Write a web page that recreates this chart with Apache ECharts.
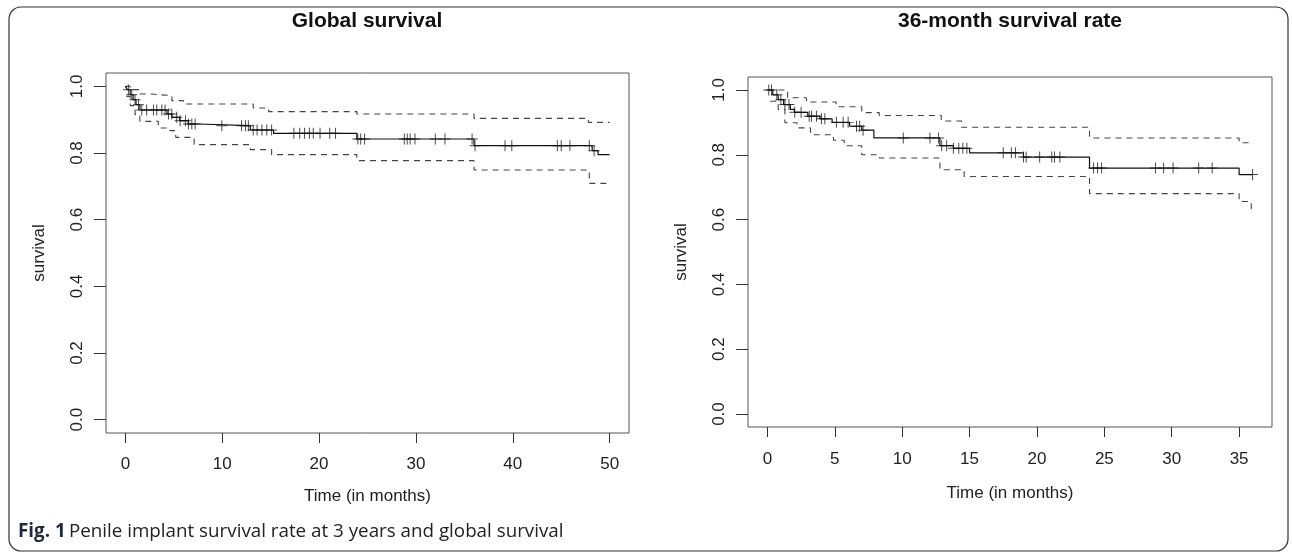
<!DOCTYPE html>
<html><head><meta charset="utf-8">
<script src="https://cdn.jsdelivr.net/npm/echarts@6/dist/echarts.min.js"></script>
<style>html,body{margin:0;padding:0;background:#fff}#c{width:1292px;height:553px}</style>
</head><body><div id="c"></div><script>
// ---- Global survival (left panel) ----
const globalKM = [[0,1.0],[0.2,0.99],[0.5,0.975],[0.8,0.96],[1.1,0.945],[1.5,0.929],[4.3,0.917],[4.8,0.907],[5.6,0.897],[6.5,0.887],[7.5,0.882],[12.9,0.869],[15.3,0.859],[23.9,0.842],[36.0,0.822],[48.2,0.807],[48.8,0.795],[50,0.795]];
const globalUpper = [[0,1.0],[0.5,0.99],[1.5,0.977],[2.7,0.972],[4.8,0.957],[6.0,0.947],[13.2,0.935],[14.8,0.924],[23.9,0.917],[36.0,0.904],[47.8,0.892],[50,0.892]];
const globalLower = [[0.1,0.97],[0.5,0.942],[1.0,0.915],[1.5,0.895],[3.4,0.875],[4.6,0.867],[5.2,0.847],[7.1,0.825],[12.9,0.810],[15.1,0.795],[23.9,0.777],[36.0,0.749],[47.9,0.709],[50,0.709]];
const globalCensor = [0.31,0.66,1.0,1.35,1.69,2.2,2.9,3.24,3.76,4.1,4.45,4.79,5.3,5.65,6.2,6.51,6.86,7.2,9.96,12.0,12.4,12.7,13.2,13.6,14.1,14.6,15.1,17.4,18.0,18.5,19.0,19.4,20.1,21.1,21.7,24.0,24.3,24.7,28.8,29.1,29.4,29.9,32.0,33.0,35.8,36.1,39.2,39.9,44.6,45.0,45.9,47.9,48.4];
const globalXTicks = [0,10,20,30,40,50];

// ---- 36-month survival rate (right panel) ----
const rateKM = [[0,1.0],[0.4,0.985],[0.8,0.97],[1.2,0.955],[1.7,0.94],[2.0,0.931],[3.0,0.919],[3.9,0.911],[4.8,0.900],[6.1,0.888],[7.0,0.876],[7.9,0.852],[12.8,0.828],[13.8,0.820],[15.0,0.806],[19.0,0.793],[23.9,0.759],[35.0,0.739],[36,0.739]];
const rateUpper = [[0,1.0],[1.5,0.976],[2.9,0.963],[5.1,0.948],[7.0,0.930],[8.3,0.921],[12.9,0.904],[14.4,0.885],[23.9,0.852],[35.0,0.837],[36,0.837]];
const rateLower = [[0.2,0.965],[0.8,0.94],[1.3,0.899],[2.2,0.883],[3.2,0.862],[4.9,0.845],[5.7,0.828],[7.0,0.80],[8.3,0.79],[12.8,0.754],[14.6,0.733],[23.9,0.680],[35.0,0.656],[35.9,0.631],[36,0.631]];
const rateCensor = [0.1,0.3,0.7,1.0,1.3,1.6,2.03,2.5,3.1,3.27,3.64,4.01,4.26,5.12,5.62,5.99,6.61,6.85,7.1,10.08,12.06,12.7,12.93,13.3,13.8,14.2,14.5,14.8,17.5,18.1,18.4,19.0,19.2,20.2,21.1,21.3,21.7,24.2,24.5,24.8,28.8,29.4,30.1,32.0,33.0,36.0];
const rateXTicks = [0,5,10,15,20,25,30,35];

const yTicks = [0,0.2,0.4,0.6,0.8,1.0];

const titles = ['Global survival','36-month survival rate'];
const xName = 'Time (in months)';
const yName = 'survival';

function stepValue(km, t){ let v = km[0][1]; for (const p of km){ if (p[0] <= t) v = p[1]; } return v; }

const FONT = '"Liberation Sans", Arial, Helvetica, sans-serif';
const plus = 'path://M-0.09,-1 L0.09,-1 L0.09,-0.09 L1,-0.09 L1,0.09 L0.09,0.09 L0.09,1 L-0.09,1 L-0.09,0.09 L-1,0.09 L-1,-0.09 L-0.09,-0.09 Z';

function xAxisCfg(gi, min, max, ticks, labelMargin, nameGap){
  return {gridIndex:gi, type:'value', min:min, max:max,
    axisLine:{show:false, onZero:false}, splitLine:{show:false},
    axisTick:{show:true, customValues:ticks, length:10, lineStyle:{color:'#333', width:1}},
    axisLabel:{customValues:ticks, fontSize:17, color:'#222', margin:labelMargin, fontFamily:FONT},
    name:xName, nameLocation:'middle', nameGap:nameGap,
    nameTextStyle:{fontSize:17, color:'#222', fontFamily:FONT}};
}
function yAxisCfg(gi){
  return {gridIndex:gi, type:'value', min:-0.04, max:1.04,
    axisLine:{show:false, onZero:false}, splitLine:{show:false},
    axisTick:{show:true, customValues:yTicks, length:12, lineStyle:{color:'#333', width:1}},
    axisLabel:{customValues:yTicks, fontSize:17, color:'#222', margin:20, rotate:90, fontFamily:FONT,
      formatter:v=>Number(v).toFixed(1)},
    name:yName, nameLocation:'middle', nameGap:58, nameRotate:90,
    nameTextStyle:{fontSize:17, color:'#222', fontFamily:FONT}};
}
function panelSeries(gi, km, up, lo, cens){
  return [
    {type:'line', xAxisIndex:gi, yAxisIndex:gi, step:'end', data:up, symbol:'none', silent:true,
      lineStyle:{color:'#444', width:1.1, type:[6,5]}},
    {type:'line', xAxisIndex:gi, yAxisIndex:gi, step:'end', data:lo, symbol:'none', silent:true,
      lineStyle:{color:'#444', width:1.1, type:[6,5]}},
    {type:'line', xAxisIndex:gi, yAxisIndex:gi, step:'end', data:km, symbol:'none', silent:true,
      lineStyle:{color:'#111', width:1.2}},
    {type:'scatter', xAxisIndex:gi, yAxisIndex:gi, symbol:plus, symbolSize:11, silent:true,
      itemStyle:{color:'#1a1a1a'}, data:cens.map(t=>[t, stepValue(km,t)])}
  ];
}

const chart = echarts.init(document.getElementById('c'), null, {renderer:'canvas'});
chart.setOption({
  animation:false,
  backgroundColor:'#fff',
  grid:[
    {left:106, top:73, width:523, height:360, show:true, borderColor:'#555', borderWidth:1, backgroundColor:'transparent'},
    {left:748, top:77, width:524, height:350, show:true, borderColor:'#555', borderWidth:1, backgroundColor:'transparent'}
  ],
  xAxis:[xAxisCfg(0,-2,52,globalXTicks,23,55), xAxisCfg(1,-1.44,37.44,rateXTicks,24,58)],
  yAxis:[yAxisCfg(0), yAxisCfg(1)],
  series:[].concat(panelSeries(0, globalKM, globalUpper, globalLower, globalCensor),
                   panelSeries(1, rateKM, rateUpper, rateLower, rateCensor)),
  graphic:[
    {type:'rect', shape:{x:9, y:7, width:1279, height:544, r:12}, style:{fill:'none', stroke:'#333', lineWidth:1.2}, silent:true},
    {type:'text', x:367, y:21, style:{text:titles[0], font:'bold 21px '+FONT, fill:'#111', textAlign:'center', textVerticalAlign:'middle'}},
    {type:'text', x:1010, y:21, style:{text:titles[1], font:'bold 21px '+FONT, fill:'#111', textAlign:'center', textVerticalAlign:'middle'}},
    {type:'text', x:18, y:532, style:{
      text:'{b|Fig. 1} {n|Penile implant survival rate at 3 years and global survival}',
      textVerticalAlign:'middle',
      rich:{b:{font:'bold 18.8px "Open Sans", sans-serif', fill:'#1f2a3a'},
            n:{font:'18.8px "Open Sans", sans-serif', fill:'#222'}}}}
  ]
});
</script></body></html>
